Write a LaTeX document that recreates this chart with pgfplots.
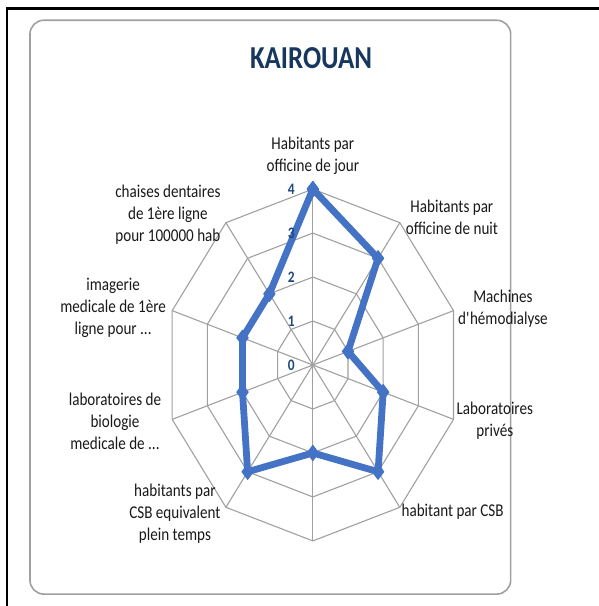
\documentclass[border=0pt]{standalone}
\usepackage{fontspec}
\setmainfont{Carlito}[FakeStretch=0.84]
\usepackage{pgfplots}
\pgfplotsset{compat=1.18}

\definecolor{serie}{HTML}{4472C4}
\definecolor{grisgrille}{HTML}{A0A0A0}
\definecolor{titre}{HTML}{17375E}
\definecolor{graduation}{HTML}{1F497D}

\tikzset{
    gridline/.style={draw=grisgrille, line width=0.55pt},
    lab/.style={align=center, text=black!90, font=\fontsize{9}{11}\selectfont},
    grad/.style={text=graduation, font=\bfseries\fontsize{8}{9}\selectfont},
}

\begin{document}
\begin{tikzpicture}
\begin{axis}[
    x=18.5pt, y=22pt,
    xmin=-8.46, xmax=7.73,
    ymin=-5.48, ymax=8.30,
    axis lines=none,
    clip=false,
    data cs=polar,
]
% frames (cartesian)
\draw[line width=1.2pt] (axis cs:-8.27,-6) -- (axis cs:-8.27,8.11) -- (axis cs:8.2,8.11);
\draw[draw=grisgrille, line width=0.8pt, rounded corners=7pt] (axis cs:-7.65,-5.21) rectangle (axis cs:5.35,7.84);
\coordinate (bl) at (axis cs:-8.46,-5.48);
\coordinate (tr) at (axis cs:7.73,8.30);

% rings
\addplot[gridline, no marks] coordinates {(90,1) (54,1) (18,1) (-18,1) (-54,1) (-90,1) (-126,1) (-162,1) (162,1) (126,1) (90,1)};
\addplot[gridline, no marks] coordinates {(90,2) (54,2) (18,2) (-18,2) (-54,2) (-90,2) (-126,2) (-162,2) (162,2) (126,2) (90,2)};
\addplot[gridline, no marks] coordinates {(90,3) (54,3) (18,3) (-18,3) (-54,3) (-90,3) (-126,3) (-162,3) (162,3) (126,3) (90,3)};
\addplot[gridline, no marks] coordinates {(90,4) (54,4) (18,4) (-18,4) (-54,4) (-90,4) (-126,4) (-162,4) (162,4) (126,4) (90,4)};
% spokes
\addplot[gridline, no marks] coordinates {(90,0) (90,4)};
\addplot[gridline, no marks] coordinates {(54,0) (54,4)};
\addplot[gridline, no marks] coordinates {(18,0) (18,4)};
\addplot[gridline, no marks] coordinates {(-18,0) (-18,4)};
\addplot[gridline, no marks] coordinates {(-54,0) (-54,4)};
\addplot[gridline, no marks] coordinates {(-90,0) (-90,4)};
\addplot[gridline, no marks] coordinates {(-126,0) (-126,4)};
\addplot[gridline, no marks] coordinates {(-162,0) (-162,4)};
\addplot[gridline, no marks] coordinates {(162,0) (162,4)};
\addplot[gridline, no marks] coordinates {(126,0) (126,4)};

% series
\addplot[serie, line width=3.4pt, line join=round, mark=diamond*, mark size=3.8pt,
    mark options={solid, fill=serie, line width=0.5pt}] coordinates {
    (90,4) (54,3) (18,1) (-18,2) (-54,3) (-90,2) (-126,3) (-162,2) (162,2) (126,2) (90,4)
};

% radial tick labels
\node[grad] at (axis cs:-0.58,0) {0};
\node[grad] at (axis cs:-0.58,1) {1};
\node[grad] at (axis cs:-0.58,2) {2};
\node[grad] at (axis cs:-0.58,3) {3};
\node[grad] at (axis cs:-0.58,4) {4};

% category labels (cartesian positions)
\node[lab] at (axis cs:0,4.75) {Habitants par\\officine de jour};
\node[lab] at (axis cs:3.76,3.36) {Habitants par\\officine de nuit};
\node[lab] at (axis cs:5.14,1.27) {Machines\\d\textquotesingle hémodialyse};
\node[lab] at (axis cs:4.92,-1.27) {Laboratoires\\privés};
\node[lab] at (axis cs:3.78,-3.34) {habitant par CSB};
\node[lab] at (axis cs:-3.73,-3.39) {habitants par\\CSB equivalent\\plein temps};
\node[lab] at (axis cs:-5.35,-1.27) {laboratoires de\\biologie\\medicale de ...};
\node[lab] at (axis cs:-5.4,1.30) {imagerie\\medicale de 1ère\\ligne pour ...};
\node[lab] at (axis cs:-3.92,3.41) {chaises dentaires\\de 1ère ligne\\pour 100000 hab};

% title
\node[text=titre, font=\bfseries\fontsize{16}{19}\selectfont] at (axis cs:-0.05,6.98) {KAIROUAN};
\end{axis}
\pgfresetboundingbox
\path (bl) rectangle (tr);
\end{tikzpicture}
\end{document}
